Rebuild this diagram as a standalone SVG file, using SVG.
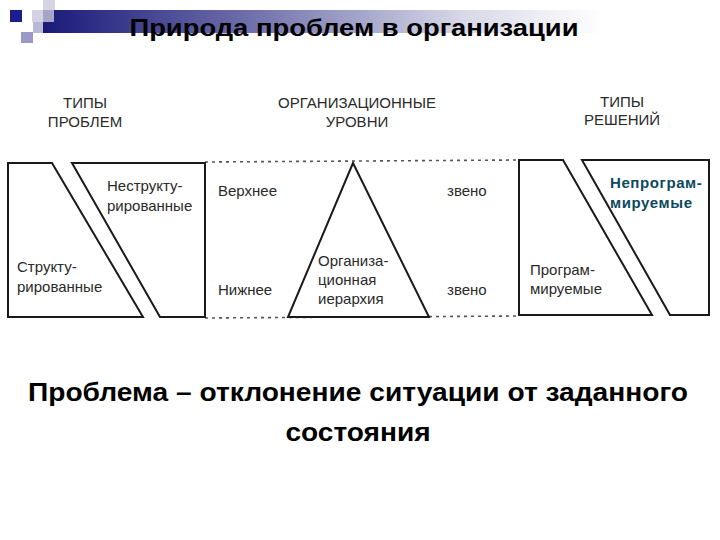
<svg xmlns="http://www.w3.org/2000/svg" width="720" height="540" viewBox="0 0 720 540">
<defs>
<linearGradient id="bar" x1="0" y1="0" x2="1" y2="0">
<stop offset="0" stop-color="#1a1a7a"/>
<stop offset="0.35" stop-color="#6a6aa8"/>
<stop offset="0.75" stop-color="#d8d8e8"/>
<stop offset="1" stop-color="#ffffff"/>
</linearGradient>
</defs>
<style>
.shape{fill:#fff;stroke:#1a1a1a;stroke-width:2;stroke-linejoin:miter}
.dots{stroke:#555;stroke-width:1.6;stroke-dasharray:3 4;fill:none}
.lbl{font-family:"Liberation Sans",Arial,sans-serif;font-size:15px;fill:#2a2a2a}
.hdr{font-family:"Liberation Sans",Arial,sans-serif;font-size:15px;fill:#2a2a2a;text-anchor:middle}
.big{font-family:"Liberation Sans",Arial,sans-serif;font-weight:bold;fill:#000}
.blue{font-family:"Liberation Sans",Arial,sans-serif;font-size:15px;font-weight:bold;fill:#0d4a5c;letter-spacing:0.6px}
</style>
<rect width="720" height="540" fill="#fff"/>
<g id="decor">
<rect x="43" y="10" width="560" height="23" fill="url(#bar)"/>
<rect x="43" y="0" width="12" height="10" fill="#d4d4e4"/>
<rect x="32" y="10" width="22" height="12" fill="#c8c8dc" opacity="0.8"/>
<rect x="10" y="10" width="12" height="12" fill="#1c1c8c"/>
<rect x="21" y="32" width="12" height="11" fill="#9a9ac8"/>
<rect x="33" y="22" width="10" height="11" fill="#b8b8d8"/>
</g>
<text class="big" x="354" y="36" font-size="24" text-anchor="middle" textLength="449" lengthAdjust="spacingAndGlyphs">Природа проблем в организации</text>
<g id="headers">
<text class="hdr" x="85" y="108">ТИПЫ</text>
<text class="hdr" x="85" y="127">ПРОБЛЕМ</text>
<text class="hdr" x="357" y="108">ОРГАНИЗАЦИОННЫЕ</text>
<text class="hdr" x="357" y="127">УРОВНИ</text>
<text class="hdr" x="622" y="107">ТИПЫ</text>
<text class="hdr" x="622" y="125">РЕШЕНИЙ</text>
</g>
<g id="connectors">
<line class="dots" x1="205" y1="162" x2="519" y2="160"/>
<line class="dots" x1="205" y1="318" x2="519" y2="316"/>
</g>
<g id="structured">
<polygon class="shape" points="8,163 52,163 143,317 8,317"/>
<text class="lbl" x="17" y="272">Структу-</text>
<text class="lbl" x="17" y="292">рированные</text>
</g>
<g id="unstructured">
<polygon class="shape" points="72,163 205,163 205,317 160,317"/>
<text class="lbl" x="107" y="191">Неструкту-</text>
<text class="lbl" x="107" y="211">рированные</text>
</g>
<g id="hierarchy">
<polygon class="shape" points="353,163 429,317 288,317"/>
<text class="lbl" x="318" y="266">Организа-</text>
<text class="lbl" x="318" y="285">ционная</text>
<text class="lbl" x="318" y="304">иерархия</text>
</g>
<g id="levels">
<text class="lbl" x="218" y="196">Верхнее</text>
<text class="lbl" x="447" y="196">звено</text>
<text class="lbl" x="218" y="295">Нижнее</text>
<text class="lbl" x="447" y="295">звено</text>
</g>
<g id="programmed">
<polygon class="shape" points="519,160 563,160 652,315 519,315"/>
<text class="lbl" x="530" y="275">Програм-</text>
<text class="lbl" x="530" y="294">мируемые</text>
</g>
<g id="nonprogrammed">
<polygon class="shape" points="582,160 709,160 709,315 670,315"/>
<text class="blue" x="610" y="188">Непрограм-</text>
<text class="blue" x="610" y="208">мируемые</text>
</g>
<g id="definition">
<text class="big" x="358" y="401" font-size="26" text-anchor="middle" textLength="660" lengthAdjust="spacingAndGlyphs">Проблема – отклонение ситуации от заданного</text>
<text class="big" x="358" y="441" font-size="26" text-anchor="middle" textLength="145" lengthAdjust="spacingAndGlyphs">состояния</text>
</g>
</svg>
